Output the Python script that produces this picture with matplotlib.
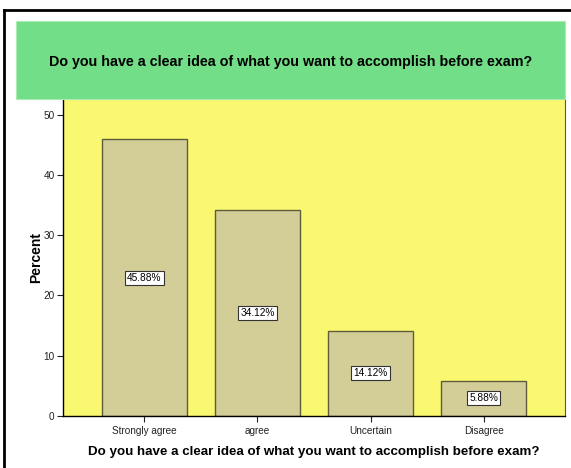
import matplotlib
matplotlib.use('Agg')
import matplotlib.pyplot as plt
from matplotlib.patches import Rectangle
from matplotlib.lines import Line2D

plt.rcParams['font.family'] = ['Liberation Sans', 'DejaVu Sans']

# data
categories = ['Strongly agree', 'agree', 'Uncertain', 'Disagree']
percents = [45.88, 34.12, 14.12, 5.88]
yticks = [0, 10, 20, 30, 40, 50]
question = 'Do you have a clear idea of what you want to accomplish before exam?'

W, H = 571, 468
fig = plt.figure(figsize=(W / 100, H / 100), dpi=100)
fig.patch.set_facecolor('white')

# outer frame (only top and left visible in the crop)
fig.add_artist(Line2D([4 / W, 1.0], [1 - 10 / H, 1 - 10 / H], color='black', lw=2))
fig.add_artist(Line2D([4 / W, 4 / W], [0, 1 - 10 / H], color='black', lw=2))

# green title band
fig.add_artist(Rectangle((16 / W, 1 - 99 / H), (565 - 16) / W, 78 / H,
                         transform=fig.transFigure, facecolor='#72DE87',
                         edgecolor='#a8ecb4', lw=0.8))
fig.text(((16 + 565) / 2) / W, 1 - 62 / H, question, ha='center', va='center',
         fontsize=10.3, fontweight='bold', color='black')

ax = fig.add_axes([63 / W, 1 - 416 / H, 502 / W, 317 / H])
ax.set_facecolor('#FAF771')

x = list(range(len(categories)))
ax.bar(x, percents, width=0.75, color='#D3CE98', edgecolor='#5f5c3c', linewidth=1.0)

for xi, p in zip(x, percents):
    ax.text(xi, p / 2, f'{p:.2f}%', ha='center', va='center', fontsize=7.3,
            bbox=dict(boxstyle='square,pad=0.2', facecolor='white',
                      edgecolor='#333333', lw=0.8))

ax.set_xlim(-0.72, 3.72)
ax.set_ylim(0, 52.6)
ax.set_yticks(yticks)
ax.set_xticks(x)
ax.set_xticklabels(categories)
ax.tick_params(axis='both', labelsize=7.2, colors='#222222', length=4, width=0.8, pad=2)
ax.tick_params(axis='x', pad=3)

for side in ['left', 'bottom']:
    ax.spines[side].set_color('black')
    ax.spines[side].set_linewidth(1.0)
ax.spines['top'].set_visible(False)
ax.spines['right'].set_color('#555555')
ax.spines['right'].set_linewidth(0.8)

ax.set_ylabel('Percent', fontsize=10, fontweight='bold', labelpad=0.5)
ax.set_xlabel(question, fontsize=9.6, fontweight='bold', labelpad=7.5)

fig.savefig('out.png', dpi=100)
